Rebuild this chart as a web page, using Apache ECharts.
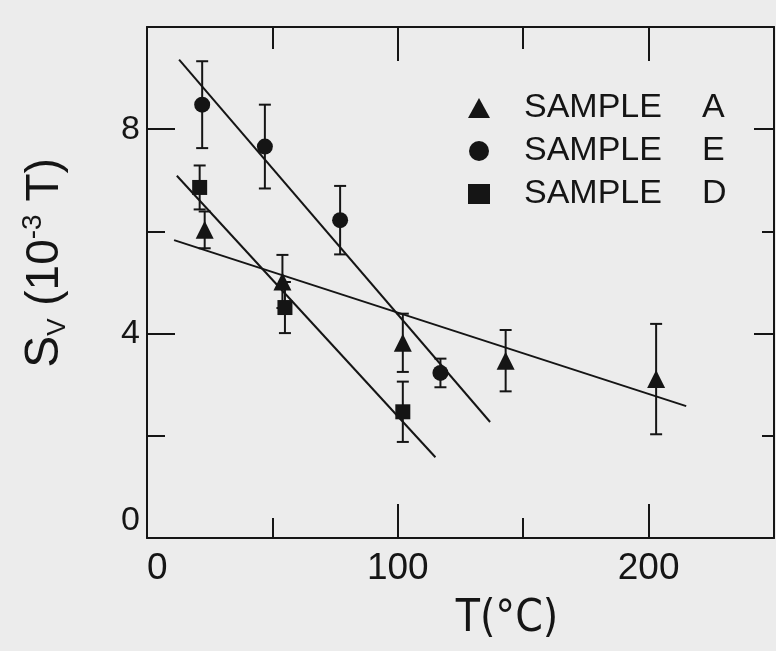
<!DOCTYPE html>
<html>
<head>
<meta charset="utf-8">
<script src="https://cdn.jsdelivr.net/npm/echarts@6/dist/echarts.min.js"></script>
<style>
  html, body { margin: 0; padding: 0; background: #ececec; }
  #chart { width: 776px; height: 651px; }
</style>
</head>
<body>
<div id="chart"></div>
<script>
// Measured points: temperature (°C), S_V (10^-3 T) and error-bar half widths
const tempA = [23, 54, 102, 143, 203];
const svA   = [6.03, 5.02, 3.82, 3.47, 3.11];
const errA  = [0.36, 0.52, 0.57, 0.60, 1.08];

const tempE = [22, 47, 77, 117];
const svE   = [8.48, 7.66, 6.22, 3.23];
const errE  = [0.85, 0.82, 0.67, 0.28];

const tempD = [21, 55, 102];
const svD   = [6.86, 4.51, 2.47];
const errD  = [0.43, 0.50, 0.59];

// End points of the straight-line fits, [T, S_V]
const fitA = [[10.8, 5.83], [215, 2.58]];
const fitE = [[12.8, 9.36], [136.8, 2.27]];
const fitD = [[11.9, 7.09], [115, 1.58]];

// Axis ticks and labels
const xLabels = [0, 100, 200];
const xMajor  = [100, 200];
const xMinor  = [50, 150];
const yLabels = [0, 4, 8];
const yMajor  = [4, 8];
const yMinor  = [2, 6];

const ink = '#151515';
const FONT = "'Liberation Sans', Arial, sans-serif";

function pairs(xs, ys) { return xs.map((x, i) => [x, ys[i]]); }
function bars(xs, ys, es) { return xs.map((x, i) => [x, ys[i] - es[i], ys[i] + es[i]]); }

// Vertical error bar with short caps, placed through the axis scales
function renderErrorBar(params, api) {
  const top = api.coord([api.value(0), api.value(2)]);
  const bot = api.coord([api.value(0), api.value(1)]);
  const cap = 6;
  const style = { stroke: ink, lineWidth: 2 };
  return {
    type: 'group',
    children: [
      { type: 'line', shape: { x1: top[0], y1: top[1], x2: bot[0], y2: bot[1] }, style },
      { type: 'line', shape: { x1: top[0] - cap, y1: top[1], x2: top[0] + cap, y2: top[1] }, style },
      { type: 'line', shape: { x1: bot[0] - cap, y1: bot[1], x2: bot[0] + cap, y2: bot[1] }, style }
    ]
  };
}

function xAxisDef(position, tickValues, tickLen, showLine, labelValues) {
  return {
    type: 'value', position, min: 0, max: 250,
    axisLine: { show: showLine, onZero: false, lineStyle: { color: ink, width: 2 } },
    axisTick: { show: true, inside: true, length: tickLen, customValues: tickValues,
                lineStyle: { color: ink, width: 2 } },
    axisLabel: labelValues ? {
      show: true, customValues: labelValues, margin: 12, color: ink,
      fontSize: 37, fontFamily: FONT, alignMinLabel: 'left'
    } : { show: false },
    splitLine: { show: false }
  };
}

function yAxisDef(position, tickValues, tickLen, showLine, labelValues) {
  return {
    type: 'value', position, min: 0, max: 10,
    axisLine: { show: showLine, onZero: false, lineStyle: { color: ink, width: 2 } },
    axisTick: { show: true, inside: true, length: tickLen, customValues: tickValues,
                lineStyle: { color: ink, width: 2 } },
    axisLabel: labelValues ? {
      show: true, customValues: labelValues, margin: 7, color: ink,
      fontSize: 34, fontFamily: FONT, verticalAlignMinLabel: 'bottom'
    } : { show: false },
    splitLine: { show: false }
  };
}

const chart = echarts.init(document.getElementById('chart'), null, { renderer: 'canvas' });

const lineStyle = { color: ink, width: 2 };
const markerStyle = { color: ink, opacity: 1 };

chart.setOption({
  backgroundColor: '#ececec',
  animation: false,
  grid: { left: 147, right: 2, top: 27, bottom: 113, containLabel: false },
  xAxis: [
    xAxisDef('bottom', xMajor, 34, true, xLabels),
    xAxisDef('bottom', xMinor, 20, false, null),
    xAxisDef('top', xMajor, 34, true, null),
    xAxisDef('top', xMinor, 22, false, null)
  ],
  yAxis: [
    yAxisDef('left', yMajor, 28, true, yLabels),
    yAxisDef('left', yMinor, 18, false, null),
    yAxisDef('right', yMajor, 20, true, null),
    yAxisDef('right', yMinor, 12, false, null)
  ],
  legend: {
    data: ['SAMPLE A', 'SAMPLE E', 'SAMPLE D'],
    orient: 'vertical', left: 463, top: 86,
    itemWidth: 22, itemHeight: 20, itemGap: 9,
    selectedMode: false,
    formatter: name => '{s|SAMPLE}{l|' + name.slice(-1) + '}',
    textStyle: {
      color: ink, fontFamily: FONT, fontSize: 35,
      rich: {
        s: { fontSize: 34, lineHeight: 36, width: 178, padding: [0, 0, 0, 29], fontFamily: FONT, color: ink },
        l: { fontSize: 34, lineHeight: 36, fontFamily: FONT, color: ink }
      }
    }
  },
  graphic: [
    {
      type: 'text', x: 45, y: 263, rotation: Math.PI / 2,
      style: {
        text: '{s|S}{v|V}{p| (10}{e|-3}{p| T)}',
        align: 'center', verticalAlign: 'middle', fill: ink,
        rich: {
          s: { fontSize: 48, lineHeight: 52, fontFamily: FONT, fill: ink },
          v: { fontSize: 26, lineHeight: 26, verticalAlign: 'bottom', fontFamily: FONT, fill: ink },
          p: { fontSize: 46, lineHeight: 52, fontFamily: FONT, fill: ink },
          e: { fontSize: 28, lineHeight: 28, verticalAlign: 'top', fontFamily: FONT, fill: ink }
        }
      }
    },
    {
      type: 'text', x: 507, y: 620,
      style: {
        text: 'T(°C)', align: 'center', verticalAlign: 'middle', fill: ink,
        fontSize: 44, fontFamily: "'Liberation Sans Narrow', 'DejaVu Sans Condensed', " + FONT
      }
    }
  ],
  series: [
    // fitted lines
    { type: 'line', data: fitE, showSymbol: false, lineStyle, silent: true, z: 2 },
    { type: 'line', data: fitA, showSymbol: false, lineStyle, silent: true, z: 2 },
    { type: 'line', data: fitD, showSymbol: false, lineStyle, silent: true, z: 2 },
    // error bars
    { type: 'custom', data: bars(tempA, svA, errA), renderItem: renderErrorBar, z: 3, silent: true },
    { type: 'custom', data: bars(tempE, svE, errE), renderItem: renderErrorBar, z: 3, silent: true },
    { type: 'custom', data: bars(tempD, svD, errD), renderItem: renderErrorBar, z: 3, silent: true },
    // markers
    { name: 'SAMPLE A', type: 'scatter', data: pairs(tempA, svA), symbol: 'triangle', symbolSize: 18,
      itemStyle: markerStyle, z: 4 },
    { name: 'SAMPLE E', type: 'scatter', data: pairs(tempE, svE), symbol: 'circle', symbolSize: 16,
      itemStyle: markerStyle, z: 4 },
    { name: 'SAMPLE D', type: 'scatter', data: pairs(tempD, svD), symbol: 'rect', symbolSize: 15,
      itemStyle: markerStyle, z: 4 }
  ]
});
</script>
</body>
</html>
